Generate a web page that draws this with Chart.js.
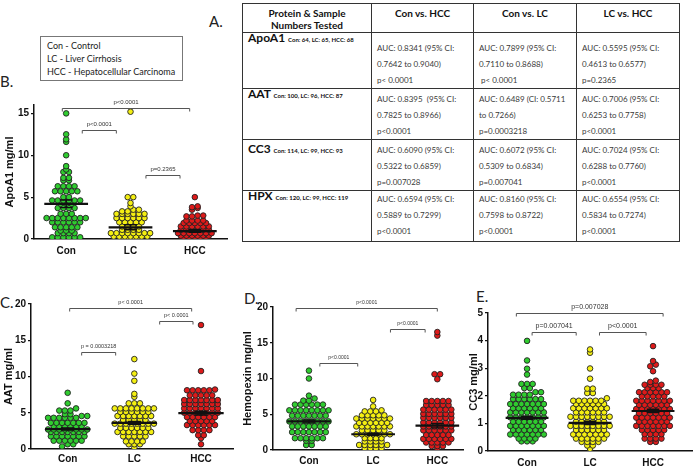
<!DOCTYPE html>
<html>
<head>
<meta charset="utf-8">
<script src="https://cdn.jsdelivr.net/npm/chart.js@4.4.1/dist/chart.umd.min.js"></script>
<style>
  body { margin: 0; background: #fff; }
  #page { position: relative; width: 697px; height: 470px; overflow: hidden; background: #fff; }
  canvas { position: absolute; }
  .lbl { position: absolute; font: 15px Lato, 'Open Sans', sans-serif; color: #222; }
  #key { position: absolute; left: 40px; top: 36px; width: 143px; height: 45px; box-sizing: border-box;
         border: 1px solid #777; padding: 2px 0 0 6px; font: 9px/13px Lato, sans-serif; color: #222; }
  #auc { position: absolute; left: 242px; top: 3px; border-collapse: collapse; table-layout: fixed; width: 437px;
         font-family: Lato, 'Open Sans', sans-serif; font-size: 8px; color: #3a3a3a; }
  #auc td, #auc th { border: 1.5px solid #333; padding: 2px 0 0 5px; vertical-align: top; line-height: 16px; text-align: left; }
  #auc th { font-size: 10px; font-weight: bold; color: #111; text-align: center; line-height: 12px; padding: 3px 0 0 0; }
  #auc tr.first td { padding-top: 7px; }
  #auc tr.last td { padding-top: 0px; }
  #auc tr td.nm { font-size: 12px; font-weight: bold; color: #111; line-height: 10px; padding-top: 0px; }
  #auc tr.third td.nm { padding-top: 4px; }
  #auc td.nm span { font-size: 6px; }
</style>
</head>
<body>
<div id="page">
  <div class="lbl" style="left:209px;top:12px">A.</div>
  <div class="lbl" style="left:0px;top:72px">B.</div>
  <div class="lbl" style="left:0px;top:293px">C.</div>
  <div class="lbl" style="left:244px;top:289px">D.</div>
  <div class="lbl" style="left:476px;top:287px">E.</div>
  <div id="key">Con - Control<br>LC - Liver Cirrhosis<br>HCC - Hepatocellular Carcinoma</div>

  <table id="auc">
    <colgroup><col style="width:129px"><col style="width:102px"><col style="width:103px"><col style="width:103px"></colgroup>
    <tr style="height:29px"><th>Protein &amp; Sample<br>Numbers Tested</th><th>Con vs. HCC</th><th>Con vs. LC</th><th>LC vs. HCC</th></tr>
    <tr class="first" style="height:55px">
      <td class="nm">ApoA1 <span>Con: 64, LC: 65, HCC: 68</span></td>
      <td>AUC: 0.8341 (95% CI:<br>0.7642 to 0.9040)<br>p&lt; 0.0001</td>
      <td>AUC: 0.7899 (95% CI:<br>0.7110 to 0.8688)<br>&nbsp;p&lt; 0.0001</td>
      <td>AUC: 0.5595 (95% CI:<br>0.4613 to 0.6577)<br>p=0.2365</td>
    </tr>
    <tr style="height:49px">
      <td class="nm">AAT <span>Con: 100, LC: 96, HCC: 87</span></td>
      <td>AUC: 0.8395 &nbsp;(95% CI:<br>0.7825 to 0.8966)<br>p&lt;0.0001</td>
      <td>AUC: 0.6489 (CI: 0.5711<br>to 0.7266)<br>p=0.0003218</td>
      <td>AUC: 0.7006 (95% CI:<br>0.6253 to 0.7758)<br>p&lt;0.0001</td>
    </tr>
    <tr class="third" style="height:50px">
      <td class="nm">CC3 <span>Con: 114, LC: 99, HCC: 93</span></td>
      <td>AUC: 0.6090 (95% CI:<br>0.5322 to 0.6859)<br>p=0.007028</td>
      <td>AUC: 0.6072 (95% CI:<br>0.5309 to 0.6834)<br>p=0.007041</td>
      <td>AUC: 0.7024 (95% CI:<br>0.6288 to 0.7760)<br>p&lt;0.0001</td>
    </tr>
    <tr class="last" style="height:51px">
      <td class="nm">HPX <span>Con: 120, LC: 99, HCC: 119</span></td>
      <td>AUC: 0.6594 (95% CI:<br>0.5889 to 0.7299)<br>p&lt;0.0001</td>
      <td>AUC: 0.8160 (95% CI:<br>0.7598 to 0.8722)<br>p&lt;0.0001</td>
      <td>AUC: 0.6554 (95% CI:<br>0.5834 to 0.7274)<br>p&lt;0.0001</td>
    </tr>
  </table>

  <canvas id="apo" width="232" height="172" style="left:0px;top:88px"></canvas>
  <canvas id="aat" width="238" height="175" style="left:0px;top:292px"></canvas>
  <canvas id="hpx" width="230" height="175" style="left:238px;top:292px"></canvas>
  <canvas id="cc3" width="235" height="175" style="left:462px;top:292px"></canvas>
</div>

<script>
// groups
var groupNames = ['Con', 'LC', 'HCC'];
var groupColors = ['#2fcc2f', '#f4ef12', '#dd1a1a'];

// ApoA1 mg/ml
var apoCon = [0.2,0.2,0.2,0.2,0.2,0.2, 0.7,0.7,0.7,0.7, 1.0,1.0,1.0, 1.4,1.4,1.4,1.4,1.4,
  2.0,2.0,2.0,2.0,2.0,2.0, 2.5,2.5,2.5,2.5,2.5,2.5,2.5,2.5, 3.0,3.0,3.0, 3.7,3.7,3.7,3.7,
  4.2,4.2,4.2, 4.6,4.6,4.6,4.6,4.6,4.6, 5.0,5.0, 5.7,5.7,5.7,5.7,5.7, 6.3,6.3,6.3,6.3,
  7.0,7.0,7.3,7.3, 8.0,8.0,8.3,8.7, 10.0,11.6,11.9,12.5,15.0];
var apoLC = [0.0,0.0,0.0,0.0, 0.3,0.3,0.3,0.3,0.3,0.3,0.3, 0.7,0.7,0.7,0.7,0.7,0.7,0.7,0.7,
  1.1,1.1,1.1,1.1, 1.5,1.5,1.5,1.5, 2.0,2.0,2.0,2.0,2.0, 2.5,2.5,2.5,2.5,2.5,2.5,
  3.0,3.0,3.0,3.0,3.0,3.0, 3.3,3.3,3.5,3.5, 3.9,4.3,5.0,5.0,15.2];
var apoHCC = [0.1,0.1,0.1,0.1,0.1, 0.4,0.4,0.4,0.4,0.4,0.4, 0.7,0.7,0.7,0.7,0.7,0.7,0.7,
  1.1,1.1,1.1,1.1,1.1,1.1, 1.5,1.5,1.5,1.5,1.5,1.5, 1.9,1.9,1.9,1.9,1.9, 2.2,2.2,2.2,2.2,
  2.7,2.7,2.8,2.8, 3.5,3.7,3.8,3.9, 5.0];
var apoMean = [4.2, 1.4, 0.95];
var apoSem = [0.45, 0.3, 0.15];
var apoP = ['p<0.0001', 'p<0.0001', 'p=0.2365'];
var apoTicks = [0, 5, 10, 15];

// AAT mg/ml
var aatCon = [0.35,0.65,0.65, 1.15,1.15,1.15,1.15,1.15,1.15, 1.75,1.75,1.75,1.75,1.75,1.75,1.75,
  2.35,2.35,2.35,2.35,2.35,2.35,2.35, 2.7,2.7,2.7,2.7,2.7,2.7,2.7,2.7, 3.15,3.15,3.15,3.15,3.15,3.15,
  3.6,3.6,3.6,3.6,3.6,3.6,3.6, 4.3,4.3,4.3,4.3,4.3,4.3, 4.55,4.55,4.8,4.8, 5.3,5.3,5.3,5.6, 6.3,7.75];
var aatLC = [0.2,0.65,0.65,0.65, 1.05,1.05,1.05,1.05, 1.75,1.75,1.75,1.75,1.75,
  2.35,2.35,2.35,2.35,2.35,2.35,2.35, 2.9,2.9,2.9,2.9,2.9,2.9, 3.5,3.5,3.5,3.5,3.5,3.5,3.5,3.5,
  4.0,4.0,4.0,4.0,4.0, 4.55,4.55,4.55,4.55,4.55,4.55,4.55, 5.1,5.1,5.1,5.1,5.1,5.1,
  5.6,5.6,5.6,5.6,5.6,5.6,5.6,5.6, 6.3,6.3,6.3, 7.2,7.6,9.4,10.4,12.4];
var aatHCC = [0.65,1.5,1.9,1.9, 2.6,2.6,2.6,2.6, 3.3,3.3,3.3,3.3,3.3,3.3, 3.85,3.85,3.85,3.85,3.85,
  4.4,4.4,4.4,4.4,4.4,4.4, 5.0,5.0,5.0,5.0,5.0,5.0,5.0, 5.6,5.6,5.6,5.6,5.6,5.6,5.6,
  6.2,6.2,6.2,6.2,6.2,6.2,6.2, 6.75,6.75,6.75,6.75,6.75,6.75,6.75, 7.4,7.4,7.4,7.4,7.4,
  8.1,8.1,8.1,8.1,8.1,8.2, 10.75,17.1];
var aatMean = [2.75, 3.6, 4.95];
var aatSem = [0.15, 0.2, 0.25];
var aatP = ['p< 0.0001', 'p = 0.0003218', 'p< 0.0001'];
var aatTicks = [0, 5, 10, 15, 20];

// Hemopexin mg/ml
var hpxCon = [0.7,0.7,1.3,1.3, 1.65,1.65,1.65,1.65,1.65,1.65, 2.5,2.5,2.5,2.5,2.5,2.5,2.5,
  3.3,3.3,3.3,3.3,3.3,3.3,3.3, 4.0,4.0,4.0,4.0,4.0,4.0,4.0,4.0, 4.8,4.8,4.8,4.8,4.8,4.8,4.8,
  5.55,5.55,5.55,5.55,5.55,5.55,5.55,5.55, 6.35,6.35,6.35,6.35,6.35,6.35, 6.9,6.9,7.2,7.6, 10.0,11.1];
var hpxLC = [0.25,0.25,0.25,0.25, 0.7,0.7,0.7,0.7,0.7,0.7, 1.2,1.2,1.2,1.2, 1.65,1.65,1.65,1.65,
  2.2,2.2,2.2,2.2,2.2,2.2,2.2, 2.75,2.75,2.75,2.75,2.75, 3.3,3.3,3.3,3.3,3.3,3.3,3.3,
  3.8,3.8,3.8,3.8,3.8,3.8, 4.4,4.4,4.4,4.4,4.4,4.4,4.4, 4.85,4.85,4.85,4.85,4.85,
  5.4,5.4,5.4, 5.55,6.1,7.0];
var hpxHCC = [0.2, 0.55,0.55,0.55, 1.05,1.05,1.05,1.05,1.05, 1.55,1.55,1.55,1.55,1.55,1.55,
  2.1,2.1,2.1,2.1,2.1, 2.75,2.75,2.75,2.75,2.75,2.75, 3.3,3.3,3.3,3.3,3.3,3.3,
  3.85,3.85,3.85,3.85,3.85,3.85, 4.5,4.5,4.5,4.5,4.5,4.5, 5.05,5.05,5.05,5.05,5.05,5.05,
  5.65,5.65,5.65,5.65,5.65,5.65, 6.3,6.3,6.3,6.3,6.3, 6.85,6.85,6.85,6.85,6.85,
  9.9,10.6,10.6,16.0,16.5];
var hpxMean = [4.0, 2.2, 3.4];
var hpxSem = [0.2, 0.15, 0.3];
var hpxP = ['p<0.0001', 'p<0.0001', 'p<0.0001'];
var hpxTicks = [0, 5, 10, 15, 20];

// CC3 mg/ml
var cc3Con = [0.35,0.35,0.35, 0.45,0.45,0.45,0.45, 0.6,0.6,0.6,0.6,0.6,0.6,0.6, 0.76,0.76,0.76,0.76,0.76,0.76,
  0.91,0.91,0.91,0.91,0.91,0.91,0.91, 1.06,1.06,1.06,1.06,1.06,1.06, 1.22,1.22,1.22,1.22,1.22,1.22,1.22,
  1.4,1.4,1.4,1.4,1.4,1.4,1.4, 1.55,1.55,1.55,1.55,1.55,1.55, 1.7,1.7,1.7,1.7,1.7,1.7,1.7,
  1.88,1.88,1.88,1.88,1.88,1.88, 2.04,2.04,2.04,2.04, 2.13,2.13, 2.28,2.28, 2.43,2.43,2.43,
  2.77,2.98,3.28,3.99];
var cc3LC = [0.08, 0.2,0.2, 0.33,0.33,0.33,0.33, 0.45,0.45,0.45,0.45,0.45,0.45, 0.6,0.6,0.6,0.6,0.6,0.6,0.6,
  0.76,0.76,0.76,0.76,0.76,0.76, 0.91,0.91,0.91,0.91,0.91,0.91,0.91,0.91, 1.06,1.06,1.06,1.06,1.06,1.06,
  1.24,1.24,1.24,1.24,1.24,1.24,1.24,1.24, 1.4,1.4,1.4,1.4,1.4,1.4, 1.55,1.55,1.55,1.55,1.55,1.55,1.55,
  1.7,1.7,1.7,1.7,1.7,1.7, 1.82,1.82,1.82,1.82,1.82,1.82, 1.91, 2.1,2.1, 2.26,2.26,
  2.62,2.99,3.56,3.68];
var cc3HCC = [0.33,0.33, 0.45,0.45,0.45,0.45, 0.61,0.61,0.61,0.61, 0.76,0.76,0.76,0.76,0.76,
  0.91,0.91,0.91,0.91,0.91,0.91,0.91, 1.06,1.06,1.06,1.06,1.06,1.06, 1.21,1.21,1.21,1.21,1.21,1.21,1.21,
  1.37,1.37,1.37,1.37,1.37,1.37, 1.52,1.52,1.52,1.52,1.52,1.52,1.52, 1.67,1.67,1.67,1.67,1.67,1.67,
  1.82,1.82,1.82,1.82,1.82,1.82,1.82, 1.98,1.98,1.98,1.98,1.98, 2.13,2.13,2.13,2.13,2.13,2.13,
  2.28,2.28,2.28, 2.4,2.4,2.4,2.4, 2.5,2.55, 2.89,3.07,3.13,3.26,3.8];
var cc3Mean = [1.2, 1.02, 1.45];
var cc3Sem = [0.05, 0.06, 0.06];
var cc3P = ['p=0.007028', 'p=0.007041', 'p<0.0001'];
var cc3Ticks = [0, 1, 2, 3, 4, 5];

Chart.defaults.font.family = "'Liberation Sans', Arial, sans-serif";
var ROWH = 2.5;   // px: values closer than this share a row
var STEP = 5.6;   // px between dots in a row

// significance brackets drawn above the columns
var bracketPlugin = {
  id: 'brackets',
  afterDatasetsDraw: function(chart, args, opts) {
    var ctx = chart.ctx, xs = chart.scales.x, ys = chart.scales.y;
    ctx.save();
    ctx.strokeStyle = '#555';
    ctx.lineWidth = 1;
    ctx.fillStyle = '#333';
    ctx.font = opts.font;
    ctx.textAlign = 'center';
    ctx.textBaseline = 'bottom';
    opts.items.forEach(function(b) {
      var x1 = xs.getPixelForValue(b.from), x2 = xs.getPixelForValue(b.to), py = Math.round(ys.getPixelForValue(b.y)) + 0.5;
      ctx.beginPath();
      ctx.moveTo(x1, py + 3); ctx.lineTo(x1, py); ctx.lineTo(x2, py); ctx.lineTo(x2, py + 3);
      ctx.stroke();
      ctx.fillText(b.text, (x1 + x2) / 2, py - 3);
    });
    ctx.restore();
  }
};

// column scatter: dots of similar value sit side by side in centred rows
function spread(chart) {
  var xs = chart.scales.x, ys = chart.scales.y;
  var unit = xs.getPixelForValue(1) - xs.getPixelForValue(0);
  chart.data.datasets.forEach(function(ds) {
    if (ds.type === 'line') return;
    var pts = ds.data.slice().sort(function(a, b) { return a.y - b.y; });
    var rows = [], cur = null;
    pts.forEach(function(p) {
      var py = ys.getPixelForValue(p.y);
      if (!cur || cur.py0 - py > ROWH) { cur = { py0: py, pts: [] }; rows.push(cur); }
      cur.pts.push(p);
    });
    rows.forEach(function(r) {
      var n = r.pts.length;
      r.pts.forEach(function(p, i) { p.x = ds.grp + (i - (n - 1) / 2) * STEP / unit; });
    });
  });
  chart.update('none');
}

function dotPlot(id, p) {
  var datasets = [];
  p.groups.forEach(function(vals, g) {
    datasets.push({
      grp: g,
      data: vals.map(function(v) { return { x: g, y: v }; }),
      backgroundColor: groupColors[g],
      borderColor: '#222',
      borderWidth: 0.9,
      pointRadius: 2.8,
      order: 2
    });
  });
  var meanData = [], semData = [];
  p.means.forEach(function(m, g) {
    var s = p.sems[g];
    meanData.push({ x: g - 0.34, y: m }, { x: g + 0.34, y: m }, { x: g, y: null });
    semData.push({ x: g, y: m - s }, { x: g, y: m + s }, { x: g, y: null },
      { x: g - 0.1, y: m + s }, { x: g + 0.1, y: m + s }, { x: g, y: null },
      { x: g - 0.1, y: m - s }, { x: g + 0.1, y: m - s }, { x: g, y: null });
  });
  datasets.push({ type: 'line', data: meanData, borderColor: '#111', borderWidth: 2.2, pointRadius: 0, spanGaps: false, order: 0 });
  datasets.push({ type: 'line', data: semData, borderColor: '#111', borderWidth: 1.4, pointRadius: 0, spanGaps: false, order: 0 });

  var items = p.brackets.map(function(b, i) { return { from: b[0], to: b[1], y: b[2], text: p.pvals[i] }; });

  var chart = new Chart(document.getElementById(id), {
    type: 'scatter',
    data: { datasets: datasets },
    options: {
      responsive: false,
      animation: false,
      layout: { padding: { top: p.padTop, right: p.padRight, left: 0, bottom: 0 } },
      plugins: {
        legend: { display: false },
        tooltip: { enabled: false },
        brackets: { font: p.pFont, items: items }
      },
      scales: {
        x: {
          type: 'linear', min: p.xMin, max: p.xMax,
          afterBuildTicks: function(ax) { ax.ticks = groupNames.map(function(n, i) { return { value: i }; }); },
          ticks: {
            callback: function(v) { return groupNames[v]; },
            font: { size: 10, weight: 'bold' }, color: '#111', padding: p.xPad, maxRotation: 0, autoSkip: false
          },
          grid: { display: false, drawTicks: false },
          border: { color: '#111', width: 1.5 },
          afterFit: function(s) { s.height = p.xH; }
        },
        y: {
          min: 0, max: p.yMax,
          afterBuildTicks: function(ax) { ax.ticks = p.ticks.map(function(v) { return { value: v }; }); },
          ticks: { font: { size: 10, weight: 'bold' }, color: '#111', padding: 2 },
          grid: { drawOnChartArea: false, tickLength: 3, color: '#111', lineWidth: 1.2 },
          border: { color: '#111', width: 1.5 },
          title: { display: true, text: p.title, font: { size: 11, weight: 'bold' }, color: '#111', padding: { top: p.titlePad, bottom: 0 } },
          afterFit: function(s) { s.width = p.yW; }
        }
      }
    },
    plugins: [bracketPlugin]
  });
  spread(chart);
  return chart;
}

dotPlot('apo', {
  groups: [apoCon, apoLC, apoHCC], means: apoMean, sems: apoSem, pvals: apoP, ticks: apoTicks,
  title: 'ApoA1 mg/ml', yMax: 16, xMin: -0.5, xMax: 2.5,
  yW: 34, xH: 21, xPad: 6, padTop: 17, padRight: 5, titlePad: 3, pFont: '6px "Liberation Sans", Arial',
  brackets: [[-0.06, 1.92, 15.65], [0.25, 0.78, 13.0], [1.24, 1.77, 7.7]]
});
dotPlot('aat', {
  groups: [aatCon, aatLC, aatHCC], means: aatMean, sems: aatSem, pvals: aatP, ticks: aatTicks,
  title: 'AAT mg/ml', yMax: 20, xMin: -0.55, xMax: 2.48,
  yW: 31, xH: 18, xPad: 4, padTop: 12, padRight: 5, titlePad: 2, pFont: '5.5px "Liberation Sans", Arial',
  brackets: [[0.03, 1.86, 19.45], [0.21, 0.72, 13.4], [1.38, 1.88, 17.65]]
});
dotPlot('hpx', {
  groups: [hpxCon, hpxLC, hpxHCC], means: hpxMean, sems: hpxSem, pvals: hpxP, ticks: hpxTicks,
  title: 'Hemopexin mg/ml', yMax: 20, xMin: -0.56, xMax: 2.4,
  yW: 35, xH: 17, xPad: 5, padTop: 15, padRight: 5, titlePad: 3, pFont: '5px "Liberation Sans", Arial',
  brackets: [[-0.2, 2.0, 19.86], [0.17, 0.76, 12.2], [1.27, 1.81, 16.9]]
});
dotPlot('cc3', {
  groups: [cc3Con, cc3LC, cc3HCC], means: cc3Mean, sems: cc3Sem, pvals: cc3P, ticks: cc3Ticks,
  title: 'CC3 mg/ml', yMax: 5, xMin: -0.62, xMax: 2.62,
  yW: 26, xH: 16, xPad: 6, padTop: 21, padRight: 0, titlePad: 5, pFont: '7px "Liberation Sans", Arial',
  brackets: [[-0.17, 2.16, 5.0], [0.08, 0.78, 4.31], [1.15, 1.89, 4.31]]
});
</script>
</body>
</html>
